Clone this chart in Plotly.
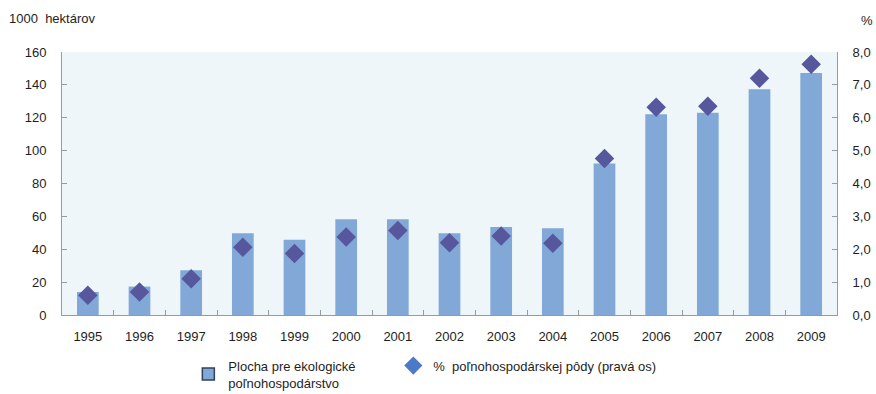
import plotly.graph_objects as go

# Organic farming area in Slovakia, 1995-2009
years = ["1995", "1996", "1997", "1998", "1999", "2000", "2001", "2002",
         "2003", "2004", "2005", "2006", "2007", "2008", "2009"]
area_thousand_ha = [14.0, 17.3, 27.3, 49.7, 45.8, 58.3, 58.3, 49.7,
                    53.6, 52.8, 92.1, 122.1, 123.0, 137.3, 147.3]
share_pct = [0.60, 0.70, 1.10, 2.06, 1.87, 2.37, 2.57, 2.20,
             2.40, 2.18, 4.76, 6.32, 6.35, 7.20, 7.63]

left_ticks = [0, 20, 40, 60, 80, 100, 120, 140, 160]
right_ticks = [0, 1, 2, 3, 4, 5, 6, 7, 8]

bar_label = "Plocha pre ekologické<br>poľnohospodárstvo"
dot_label = "%  poľnohospodárskej pôdy (pravá os)"

BAR = "#82A8D8"
DOT = "#56579C"
AXIS = "#9A9A9A"
TXT = "#1E1E1E"
FONT = "Liberation Sans, Arial, sans-serif"

fig = go.Figure()

fig.add_trace(go.Bar(
    x=years, y=area_thousand_ha, marker=dict(color=BAR, line=dict(width=0)),
    showlegend=False, yaxis="y",
))
fig.add_trace(go.Scatter(
    x=years, y=share_pct, mode="markers", yaxis="y2",
    marker=dict(symbol="diamond", size=15, color=DOT, line=dict(width=0)),
    showlegend=False,
))

# legend entries (no visible marks)
fig.add_trace(go.Bar(
    x=[years[0]], y=[None], name=bar_label, legend="legend",
    marker=dict(color=BAR, line=dict(color="#33405A", width=1.5)),
))
fig.add_trace(go.Scatter(
    x=[years[0]], y=[None], name=dot_label, mode="markers", yaxis="y2",
    legend="legend2",
    marker=dict(symbol="diamond", size=14, color="#4B7BC6"),
))

legend_common = dict(
    orientation="h", xref="container", yref="container",
    xanchor="left", yanchor="top", bgcolor="rgba(0,0,0,0)",
    font=dict(size=13, color=TXT),
)

fig.update_layout(
    width=876, height=394,
    margin=dict(l=62, r=39, t=52, b=79, autoexpand=False),
    paper_bgcolor="white",
    plot_bgcolor="#EEF6FA",
    separators=", ",
    barmode="overlay",
    bargap=0.58,
    font=dict(family=FONT, size=13, color=TXT),
    xaxis=dict(
        type="category", range=[-0.5, len(years) - 0.5],
        showline=True, linecolor=AXIS, linewidth=1,
        ticks="inside", tickson="boundaries", ticklen=5, tickcolor=AXIS,
        showgrid=False, zeroline=False, tickfont=dict(size=13, color=TXT),
        ticklabelstandoff=9, automargin=False,
    ),
    yaxis=dict(
        range=[0, 160], tickvals=left_ticks, showline=True, linecolor=AXIS,
        ticks="inside", ticklen=5, tickcolor=AXIS, showgrid=False,
        zeroline=False, tickfont=dict(size=13, color=TXT),
        ticklabelstandoff=12, automargin=False,
    ),
    yaxis2=dict(
        range=[0, 8], tickvals=right_ticks, tickformat=".1f", overlaying="y",
        side="right", showline=True, linecolor=AXIS, ticks="inside",
        ticklen=5, tickcolor=AXIS, showgrid=False, zeroline=False,
        tickfont=dict(size=13, color=TXT), ticklabelstandoff=12,
        automargin=False,
    ),
    legend=dict(legend_common, x=0.215, y=0.11),
    legend2=dict(legend_common, x=0.449, y=0.11),
    annotations=[
        dict(text="1000  hektárov", xref="paper", yref="paper",
             x=0, xshift=-55, y=1, yshift=34, showarrow=False,
             xanchor="left", yanchor="middle", font=dict(size=13, color=TXT)),
        dict(text="%", xref="paper", yref="paper",
             x=1, xshift=22, y=1, yshift=32, showarrow=False,
             xanchor="left", yanchor="middle", font=dict(size=13, color=TXT)),
    ],
)

fig.write_html("out.html")
